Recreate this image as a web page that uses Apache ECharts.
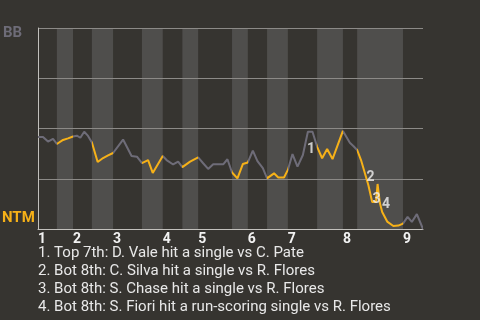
<!DOCTYPE html>
<html><head><meta charset="utf-8">
<script src="https://cdn.jsdelivr.net/npm/echarts@6/dist/echarts.min.js"></script>
<style>html,body{margin:0;padding:0;background:#363430;}#c{width:480px;height:320px;}</style>
</head><body><div id="c"></div>
<script>
// game progress (0-100) and BB win probability (0-1)
const progress = [0,1.3,2.6,3.9,4.9,6.5,7.8,9.1,10.1,11.0,12.0,13.0,14.0,15.5,16.9,18.2,19.5,22.1,24.3,25.7,27.0,28.6,29.8,32.4,33.4,35.1,36.4,37.5,39.5,41.6,42.9,44.2,45.5,48.1,49.2,50.4,51.8,53.2,54.5,55.8,57.0,58.4,59.5,61.3,62.4,63.9,64.9,66.1,67.4,68.8,70.1,71.3,72.5,73.8,75.1,76.5,79.2,81.0,81.9,82.9,83.9,85.8,86.8,87.8,88.2,88.8,89.4,90.7,92.3,93.6,94.8,96.0,97.1,98.4,100];
const winProbBB = [0.458,0.458,0.435,0.448,0.423,0.443,0.451,0.460,0.464,0.454,0.484,0.463,0.430,0.333,0.353,0.366,0.378,0.445,0.363,0.360,0.328,0.343,0.279,0.363,0.343,0.321,0.335,0.308,0.335,0.356,0.327,0.299,0.322,0.322,0.347,0.281,0.252,0.323,0.331,0.390,0.338,0.303,0.252,0.277,0.256,0.256,0.294,0.373,0.310,0.368,0.484,0.484,0.409,0.352,0.398,0.348,0.488,0.429,0.413,0.393,0.343,0.219,0.134,0.134,0.224,0.129,0.085,0.037,0.015,0.017,0.027,0.060,0.035,0.074,0];
// half-inning boundaries (progress)
const halfInningBounds = [0,4.9,9.1,14.0,19.5,27.0,32.4,37.5,41.6,50.4,54.5,59.5,64.9,72.5,79.2,82.9,94.8,100];
const inningLabels = ['1','2','3','4','5','6','7','8','9'];
const eventLabels = ['1','2','3','4'];
const eventX = [70.9,86.4,87.9,90.4];
const eventY = [0.398,0.254,0.149,0.124];
const eventNotes = [
  'Top 7th: D. Vale hit a single vs C. Pate',
  'Bot 8th: C. Silva hit a single vs R. Flores',
  'Bot 8th: S. Chase hit a single vs R. Flores',
  'Bot 8th: S. Fiori hit a run-scoring single vs R. Flores'
];
const teamTop = 'BB';
const teamBottom = 'NTM';

const GRAY = '#6e6c78', YELLOW = '#f6b118';
const inningStarts = halfInningBounds.filter((b, i) => i % 2 === 0 && i < halfInningBounds.length - 1);
const bands = [];
for (let i = 1; i < halfInningBounds.length - 1; i += 2) bands.push([{xAxis: halfInningBounds[i]}, {xAxis: halfInningBounds[i + 1]}]);
const pieces = [];
for (let i = 0; i < halfInningBounds.length - 1; i++) {
  const p = {gte: halfInningBounds[i], color: i % 2 ? YELLOW : GRAY};
  if (i < halfInningBounds.length - 2) p.lt = halfInningBounds[i + 1]; else p.lte = halfInningBounds[i + 1];
  pieces.push(p);
}

const chart = echarts.init(document.getElementById('c'));
chart.setOption({
  backgroundColor: '#363430',
  animation: false,
  textStyle: {fontFamily: 'Roboto'},
  grid: {left: 38, right: 57, top: 28, bottom: 91},
  title: {
    text: eventNotes.map((t, i) => eventLabels[i] + '. ' + t).join('\n'),
    left: 38, top: 244, padding: 0,
    textStyle: {color: '#e8e8e8', fontSize: 15, fontWeight: 'normal', lineHeight: 18, fontFamily: 'Roboto'}
  },
  visualMap: {show: false, type: 'piecewise', dimension: 0, seriesIndex: 0, pieces: pieces},
  xAxis: {
    type: 'value', min: 0, max: 100, z: 1.5,
    axisLine: {show: true, lineStyle: {color: '#c2c0bc', width: 1}},
    axisTick: {show: false},
    splitLine: {show: false},
    axisLabel: {
      customValues: inningStarts,
      formatter: v => inningLabels[inningStarts.indexOf(v)],
      align: 'left', verticalAlign: 'top', margin: 3,
      color: '#f2f2f2', fontWeight: 'bold', fontSize: 14, fontFamily: 'Roboto'
    }
  },
  yAxis: {
    type: 'value', min: 0, max: 1, interval: 0.25, z: 1.5,
    axisLine: {show: true, lineStyle: {color: '#c2c0bc', width: 1}},
    axisTick: {show: false},
    axisLabel: {show: false},
    splitLine: {lineStyle: {color: '#8c8a87', width: 1}}
  },
  graphic: [
    {type: 'text', left: 3, top: 26, style: {text: teamTop, fill: '#6e6c78', font: 'bold 15px Roboto'}},
    {type: 'text', left: 2, top: 211, style: {text: teamBottom, fill: YELLOW, font: 'bold 15px Roboto'}}
  ],
  series: [
    {
      type: 'line', z: 2,
      data: progress.map((x, i) => [x, winProbBB[i]]),
      showSymbol: false, symbol: 'none',
      lineStyle: {width: 2},
      markArea: {silent: true, itemStyle: {color: '#4f4e4c', opacity: 1}, data: bands}
    },
    {
      type: 'scatter', z: 3,
      data: eventX.map((x, i) => [x, eventY[i]]),
      symbolSize: 0,
      itemStyle: {color: 'transparent'},
      label: {show: true, position: 'inside', formatter: p => eventLabels[p.dataIndex], color: '#f0f0f0', fontWeight: 'bold', fontSize: 14, fontFamily: 'Roboto'}
    }
  ]
});
</script></body></html>
